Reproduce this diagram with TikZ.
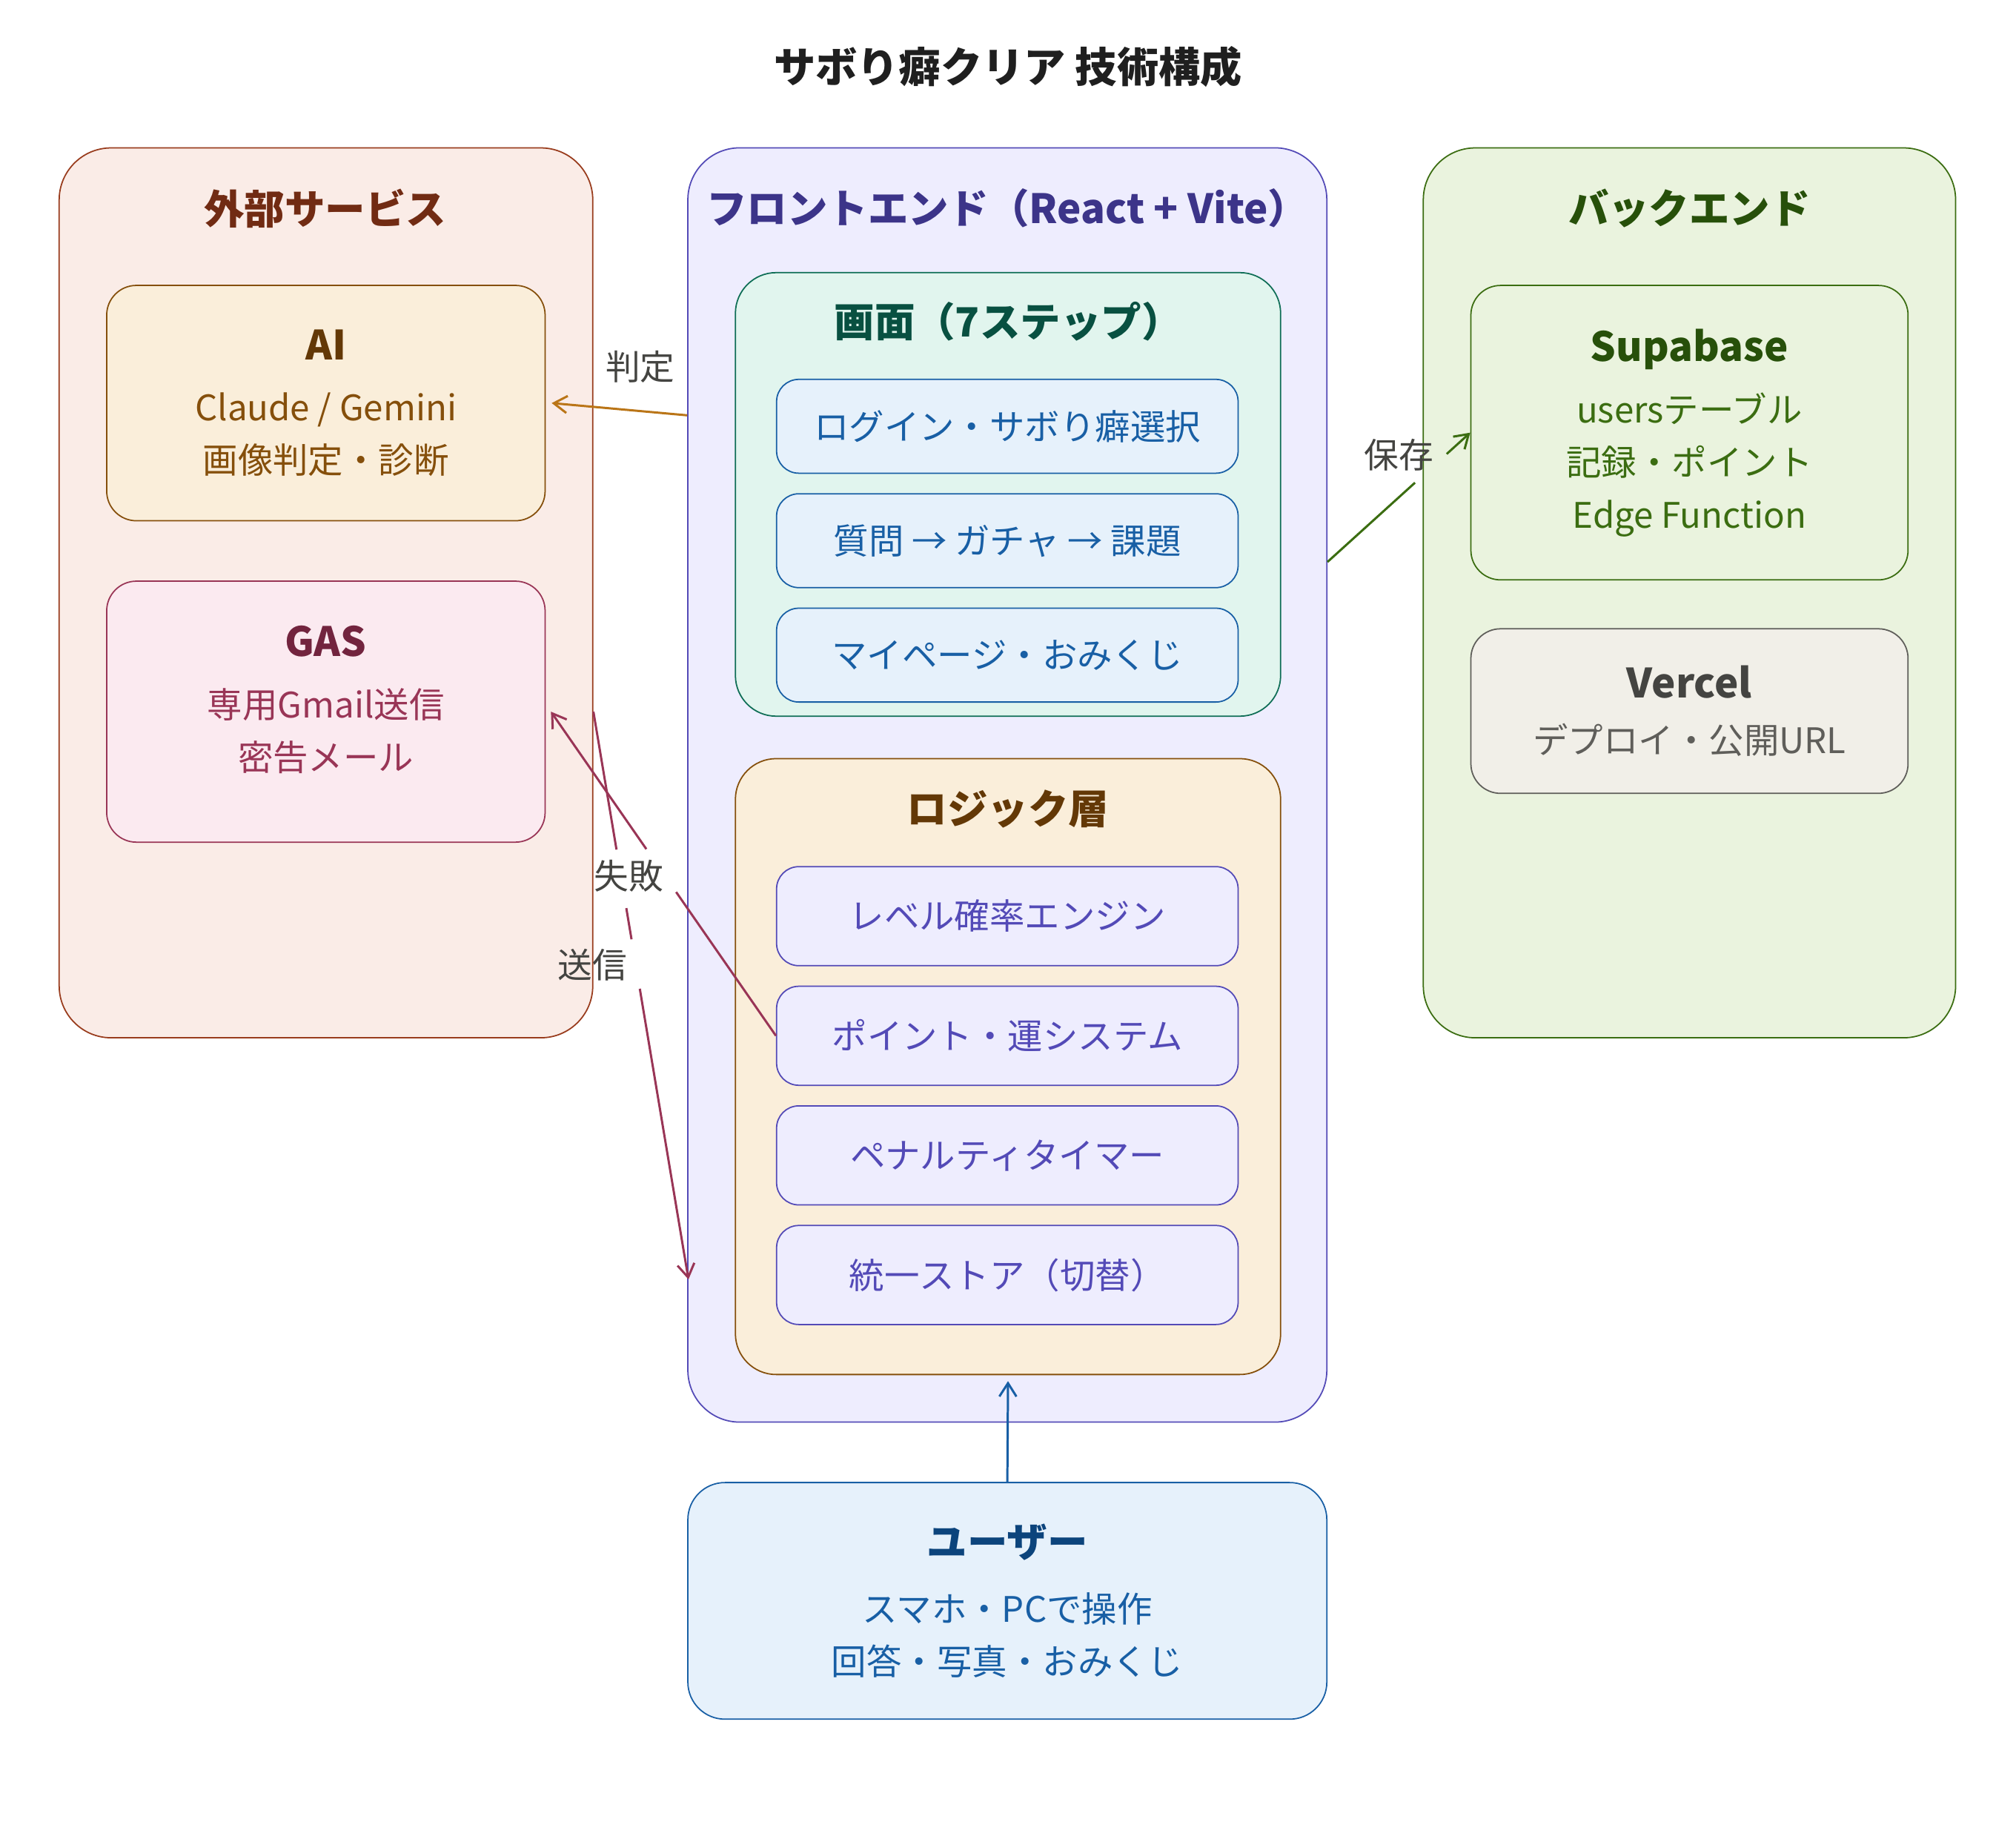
\documentclass[tikz,border=0pt]{standalone}
\usepackage{fontspec}
\setmainfont{Noto Sans CJK JP}
\usetikzlibrary{positioning, arrows.meta, calc}

\definecolor{coral50}{HTML}{FAECE7}
\definecolor{coral600}{HTML}{993C1D}
\definecolor{coral800}{HTML}{712B13}
\definecolor{amber50}{HTML}{FAEEDA}
\definecolor{amber400}{HTML}{BA7517}
\definecolor{amber600}{HTML}{854F0B}
\definecolor{amber800}{HTML}{633806}
\definecolor{pink50}{HTML}{FBEAF0}
\definecolor{pink600}{HTML}{993556}
\definecolor{pink800}{HTML}{72243E}
\definecolor{purple50}{HTML}{EEEDFE}
\definecolor{purple600}{HTML}{534AB7}
\definecolor{purple800}{HTML}{3C3489}
\definecolor{teal50}{HTML}{E1F5EE}
\definecolor{teal600}{HTML}{0F6E56}
\definecolor{teal800}{HTML}{085041}
\definecolor{blue50}{HTML}{E6F1FB}
\definecolor{blue600}{HTML}{185FA5}
\definecolor{blue800}{HTML}{0C447C}
\definecolor{green50}{HTML}{EAF3DE}
\definecolor{green600}{HTML}{3B6D11}
\definecolor{green800}{HTML}{27500A}
\definecolor{gray50}{HTML}{F1EFE8}
\definecolor{gray600}{HTML}{5F5E5A}
\definecolor{gray800}{HTML}{444441}
\definecolor{ink}{HTML}{1F1F1F}

\newcommand\boxhead[2]{{\color{#1}\bfseries\fontsize{15.5}{20.2}\selectfont #2}}

\begin{document}
\begin{tikzpicture}[
    cluster/.style={
        draw,
        rounded corners=0.7cm,
        line width=0.5pt,
        inner sep=0pt
    },
    group/.style={
        draw,
        rounded corners=0.55cm,
        line width=0.5pt,
        inner sep=0pt,
        minimum width=7.356cm
    },
    svc/.style={
        draw,
        rounded corners=0.4cm,
        line width=0.5pt,
        align=center,
        inner sep=0pt,
        font=\fontsize{13.5}{20.2}\selectfont
    },
    item/.style={
        draw,
        rounded corners=0.3cm,
        line width=0.5pt,
        minimum width=6.227cm,
        inner sep=0pt,
        font=\fontsize{13.5}{16}\selectfont
    },
    heading/.style={font=\bfseries\fontsize{15.5}{19}\selectfont},
    edgelabel/.style={font=\fontsize{13.3}{16}\selectfont, text=gray800},
    link/.style={line width=0.85pt},
    arrow/.style={link, -{Straight Barb[length=1.8mm, width=2.3mm]}}
]

\fill[white] (0,0) rectangle (27.2,-24.8);
\useasboundingbox (0,0) rectangle (27.2,-24.8);

\node[font=\bfseries\fontsize{16}{19}\selectfont, text=ink] (title) at (13.6,-0.902) {サボり癖クリア 技術構成};

% outer groups
\node[cluster, fill=coral50, draw=coral600, minimum width=7.199cm, minimum height=12.005cm] (ext) at (4.398,-7.998) {};
\node[cluster, fill=purple50, draw=purple600, minimum width=8.621cm, minimum height=17.191cm] (fe) at (13.591,-10.590) {};
\node[cluster, fill=green50, draw=green600, minimum width=7.182cm, minimum height=12.005cm] (be) at (22.794,-7.998) {};

\node[heading, text=coral800] (extTitle) at (4.389,-2.810) {外部サービス};
\node[heading, text=purple800] (feTitle) at (13.591,-2.810) {フロントエンド（React + Vite）};
\node[heading, text=green800] (beTitle) at (22.794,-2.810) {バックエンド};

% external services
\node[svc, fill=amber50, draw=amber600, text=amber600, minimum width=5.915cm, minimum height=3.175cm] (ai) at (4.397,-5.438)
    {\boxhead{amber800}{AI}\\[3.4pt]Claude / Gemini\\画像判定・診断};
\node[svc, fill=pink50, draw=pink600, text=pink600, minimum width=5.915cm, minimum height=3.521cm] (gas) at (4.397,-9.601)
    {\boxhead{pink800}{GAS}\\[3.4pt]専用Gmail送信\\密告メール\rule[-0.36cm]{0pt}{0pt}};

% frontend
\node[group, fill=teal50, draw=teal600, minimum height=5.984cm] (scr) at (13.600,-6.670) {};
\node[heading, text=teal800] (scrTitle) at (13.600,-4.337) {画面（7ステップ）};
\node[item, fill=blue50, draw=blue600, text=blue600, minimum height=1.266cm] (login) at (13.591,-5.751) {ログイン・サボり癖選択};
\node[item, fill=blue50, draw=blue600, text=blue600, minimum height=1.266cm, below=0.26cm of login] (quest) {質問 → ガチャ → 課題};
\node[item, fill=blue50, draw=blue600, text=blue600, minimum height=1.266cm, below=0.26cm of quest] (mypage) {マイページ・おみくじ};

\node[group, fill=amber50, draw=amber600, minimum height=8.309cm] (lg) at (13.600,-14.389) {};
\node[heading, text=amber800] (lgTitle) at (13.600,-10.911) {ロジック層};
\node[item, fill=purple50, draw=purple600, text=purple600, minimum height=1.336cm] (level) at (13.591,-12.360) {レベル確率エンジン};
\node[item, fill=purple50, draw=purple600, text=purple600, minimum height=1.336cm, below=0.26cm of level] (point) {ポイント・運システム};
\node[item, fill=purple50, draw=purple600, text=purple600, minimum height=1.336cm, below=0.26cm of point] (timer) {ペナルティタイマー};
\node[item, fill=purple50, draw=purple600, text=purple600, minimum height=1.336cm, below=0.26cm of timer] (store) {統一ストア（切替）};

% backend
\node[svc, fill=green50, draw=green600, text=green600, minimum width=5.898cm, minimum height=3.972cm] (sb) at (22.794,-5.837)
    {\boxhead{green800}{Supabase}\\[3.4pt]usersテーブル\\記録・ポイント\\Edge Function};
\node[svc, fill=gray50, draw=gray600, text=gray600, minimum width=5.898cm, minimum height=2.220cm] (vc) at (22.794,-9.593)
    {\boxhead{gray800}{Vercel}\\[1pt]デプロイ・公開URL};

% user
\node[svc, rounded corners=0.5cm, fill=blue50, draw=blue600, text=blue600, minimum width=8.621cm, minimum height=3.192cm] (usr) at (13.591,-21.597)
    {\boxhead{blue800}{ユーザー}\\[5pt]スマホ・PCで操作\\回答・写真・おみくじ};

% connectors
\coordinate (judgeS) at (fe.west |- 0,-5.603);
\draw[arrow, draw=amber400] (judgeS) -- ([xshift=0.08cm]ai.east);

\coordinate (saveS) at (fe.east |- 0,-7.581);
\draw[link, draw=green600] (saveS) -- ($(saveS)!0.613!(sb.west)$);
\draw[arrow, draw=green600] ($(saveS)!0.835!(sb.west)$) -- (sb.west);

\coordinate (failE) at ([xshift=0.07cm]gas.east);
\draw[link, draw=pink600] (point.west) -- ($(point.west)!0.4435!(failE)$);
\draw[arrow, draw=pink600] ($(point.west)!0.576!(failE)$) -- (failE);

\coordinate (sendS) at (ext.east |- gas.east);
\coordinate (sendE) at ([xshift=0.017cm,yshift=-0.06cm]fe.west |- store.west);
\draw[link, draw=pink600] (sendS) -- ($(sendS)!0.243!(sendE)$);
\draw[link, draw=pink600] ($(sendS)!0.346!(sendE)$) -- ($(sendS)!0.401!(sendE)$);
\draw[arrow, draw=pink600] ($(sendS)!0.488!(sendE)$) -- (sendE);

\draw[arrow, draw=blue600] (usr.north) -- ([yshift=-0.08cm]lg.south);

\node[edgelabel] (judgeLbl) at (8.639,-4.944) {判定};
\node[edgelabel] (saveLbl) at (18.874,-6.141) {保存};
\node[edgelabel] (failLbl) at (8.483,-11.813) {失敗};
\node[edgelabel] (sendLbl) at (7.997,-13.019) {送信};

\end{tikzpicture}
\end{document}
